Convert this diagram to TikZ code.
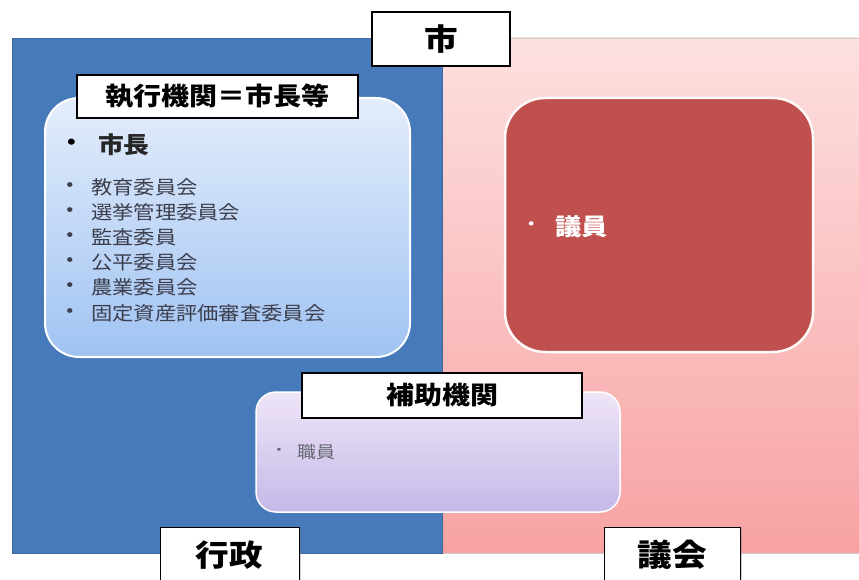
\documentclass[tikz,border=0pt]{standalone}
\usepackage{fontspec}
\newfontfamily\cjk{Noto Sans CJK JP}[FakeStretch=1.12]
\usetikzlibrary{shadows}
\definecolor{gyoblue}{RGB}{70,122,186}
\definecolor{pinktop}{RGB}{253,224,224}
\definecolor{pinkbot}{RGB}{248,162,162}
\definecolor{lbtop}{RGB}{228,237,251}
\definecolor{lbbot}{RGB}{160,195,243}
\definecolor{redbox}{RGB}{192,80,77}
\definecolor{lavtop}{RGB}{239,229,246}
\definecolor{lavbot}{RGB}{198,184,233}
\definecolor{listtext}{RGB}{60,62,76}
\tikzset{
  labelbox/.style={draw=black, line width=1.3pt, fill=white, inner sep=0pt,
    drop shadow={shadow xshift=1.2pt, shadow yshift=-1.2pt, opacity=0.35},
    font=\cjk\bfseries},
  txt/.style={inner sep=0pt, anchor=west, font=\cjk},
  bul/.style={inner sep=0pt, anchor=center, font=\cjk},
}
\begin{document}
\begin{tikzpicture}[x=1pt,y=1pt]
\useasboundingbox (0,0) rectangle (859,579);
\fill[white] (0,0) rectangle (859,579);
% main areas
\path[draw=gray!40, line width=0.6pt, top color=pinktop, bottom color=pinkbot] (442,26) rectangle (870,541);
\path[draw=gyoblue!85!black, line width=0.6pt, fill=gyoblue] (12,26) rectangle (442,541);
% city label
\node[labelbox, minimum width=138pt, minimum height=54pt, font=\cjk\bfseries\fontsize{30}{30}\selectfont] (city) at (441,540) {市};
% executive box
\node[draw=white, line width=2pt, rounded corners=34pt, top color=lbtop, bottom color=lbbot,
  minimum width=365pt, minimum height=259pt, inner sep=0pt] (exec) at (227.5,351.5) {};
\node[labelbox, minimum width=281pt, minimum height=43pt, font=\cjk\bfseries\fontsize{25}{25}\selectfont] (execlabel) at (217.5,482.5) {執行機関＝市長等};
\node[bul, font=\cjk\bfseries\fontsize{22}{22}\selectfont] (b0) at (72,434) {・};
\node[txt, font=\cjk\bfseries\fontsize{23}{23}\selectfont, text=black!85] (mayor) at (98,434) {市長};
\foreach \y/\t [count=\i] in {392/教育委員会, 367/選挙管理委員会, 342/監査委員, 317/公平委員会, 292/農業委員会, 266/固定資産評価審査委員会}{
  \node[bul, font=\cjk\bfseries\fontsize{17}{17}\selectfont, text=listtext] (lb\i) at (70,\y) {・};
  \node[txt, font=\cjk\fontsize{19}{19}\selectfont, text=listtext] (li\i) at (91,\y) {\t};
}
% assembly member box
\node[draw=white!92!pink, line width=2.5pt, rounded corners=40pt, fill=redbox,
  minimum width=308pt, minimum height=254pt, inner sep=0pt] (council) at (659,354) {};
\node[bul, font=\cjk\fontsize{20}{20}\selectfont, text=white] (b9) at (532,352) {・};
\node[txt, font=\cjk\bfseries\fontsize{23.5}{23.5}\selectfont, text=white] (giin) at (555,352) {議員};
% auxiliary box
\node[draw=white, line width=1.5pt, rounded corners=20pt, top color=lavtop, bottom color=lavbot,
  minimum width=364pt, minimum height=120pt, inner sep=0pt] (aux) at (438,127) {};
\node[labelbox, minimum width=280pt, minimum height=45pt, font=\cjk\bfseries\fontsize{25}{25}\selectfont] (auxlabel) at (442,183.5) {補助機関};
\node[bul, font=\cjk\fontsize{15}{15}\selectfont, text=listtext!80] (b10) at (279,127) {・};
\node[txt, font=\cjk\fontsize{17}{17}\selectfont, text=listtext!80] (shokuin) at (297,127) {職員};
% bottom labels
\node[labelbox, minimum width=139pt, minimum height=62pt, anchor=north west] (gyosei) at (160,52) {};
\node[inner sep=0pt, font=\cjk\bfseries\fontsize{30}{30}\selectfont] (gyoseitxt) at (229.5,24) {行政};
\node[labelbox, minimum width=136pt, minimum height=62pt, anchor=north west] (gikai) at (604,52) {};
\node[inner sep=0pt, font=\cjk\bfseries\fontsize{31}{31}\selectfont] (gikaitxt) at (672,24) {議会};
\end{tikzpicture}
\end{document}
